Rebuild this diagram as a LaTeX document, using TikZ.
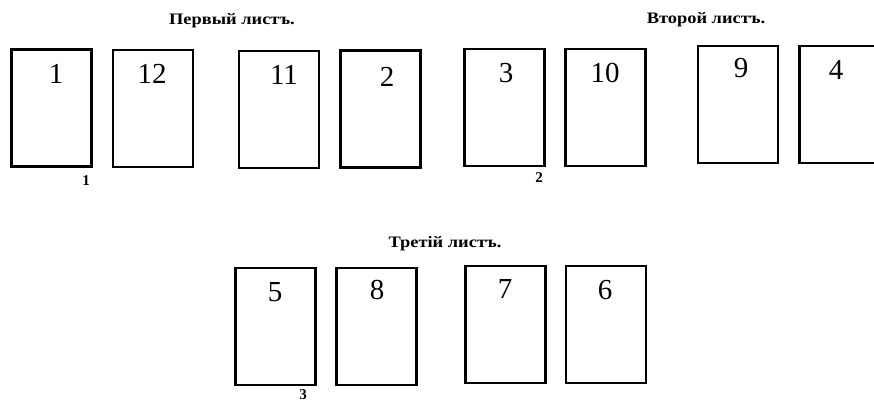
\documentclass[tikz,border=0pt]{standalone}
\usepackage{fontspec}
\setmainfont{Liberation Serif}
\begin{document}
\begin{tikzpicture}[x=1pt,y=-1pt,
  pagebox/.style={draw, line width=2.6pt, minimum width=80pt, minimum height=117pt, inner sep=0pt},
  num/.style={font=\fontsize{29}{29}\selectfont, inner sep=0pt},
  title/.style={font=\bfseries\fontsize{16}{16}\selectfont, inner sep=0pt},
  small/.style={font=\bfseries\fontsize{15}{15}\selectfont, inner sep=0pt}]
\useasboundingbox (0,0) rectangle (874,403);
\clip (0,0) rectangle (874,403);
% first sheet
\node[title] (t1) at (232,21) {\scalebox{1.15}[1]{Первый листъ.}};
\node[pagebox] (p1) at (51.5,108) {};
\node[pagebox] (p12) at (153,108.5) {};
\node[pagebox] (p11) at (279,109.5) {};
\node[pagebox] (p2) at (380.5,109) {};
\node[num] (n1) at (56,74) {1};
\node[num] (n12) at (152,74) {12};
\node[num] (n11) at (284,75) {11};
\node[num] (n2) at (387,77) {2};
\node[small] (s1) at (86,181) {1};
% second sheet
\node[title] (t2) at (706,20) {\scalebox{1.15}[1]{Второй листъ.}};
\node[pagebox] (p3) at (504.5,107.5) {};
\node[pagebox] (p10) at (605.5,107.5) {};
\node[pagebox] (p9) at (738,104.5) {};
\node[pagebox] (p4) at (839.5,104.5) {};
\node[num] (n3) at (506,73) {3};
\node[num] (n10) at (605,73) {10};
\node[num] (n9) at (741,68) {9};
\node[num] (n4) at (836,70) {4};
\node[small] (s2) at (539,178) {2};
% third sheet
\node[title] (t3) at (445,244) {\scalebox{1.15}[1]{Третій листъ.}};
\node[pagebox] (p5) at (275.5,326.5) {};
\node[pagebox] (p8) at (376.5,326.5) {};
\node[pagebox] (p7) at (505.5,324.5) {};
\node[pagebox] (p6) at (606,324.5) {};
\node[num] (n5) at (275,292) {5};
\node[num] (n8) at (377,290) {8};
\node[num] (n7) at (505,289) {7};
\node[num] (n6) at (605,290) {6};
\node[small] (s3) at (303,395) {3};
\end{tikzpicture}
\end{document}
